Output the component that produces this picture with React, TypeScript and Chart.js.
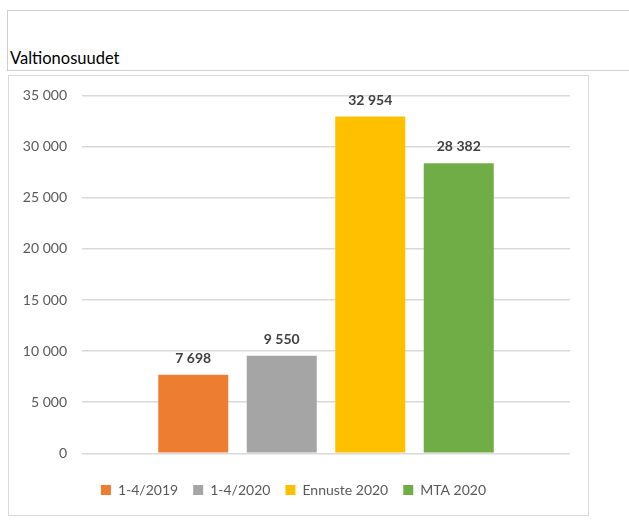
import React, { useEffect, useRef } from "react";
import { Chart, registerables } from "chart.js";

Chart.register(...registerables);

const categories = ["Valtionosuudet"];
const seriesLabels = ["1-4/2019", "1-4/2020", "Ennuste 2020", "MTA 2020"];
const seriesValues = [7698, 9550, 32954, 28382];
const seriesColors = ["#ED7D31", "#A5A5A5", "#FFC000", "#70AD47"];
const yMin = 0;
const yMax = 35000;
const yStep = 5000;

const fmt = (v: number) => String(Math.round(v)).replace(/\B(?=(\d{3})+(?!\d))/g, " ");

const FONT = "Lato, 'Noto Sans', sans-serif";

const valueLabels = {
  id: "valueLabels",
  afterDatasetsDraw(chart: any) {
    const ctx = chart.ctx;
    ctx.save();
    ctx.font = `bold 14px ${FONT}`;
    ctx.fillStyle = "#404040";
    ctx.textAlign = "center";
    ctx.textBaseline = "alphabetic";
    chart.data.datasets.forEach((ds: any, i: number) => {
      const meta = chart.getDatasetMeta(i);
      meta.data.forEach((el: any, j: number) => {
        ctx.fillText(fmt(ds.data[j] as number), el.x, el.y - 12);
      });
    });
    ctx.restore();
  },
};

export default function App() {
  const ref = useRef<HTMLCanvasElement>(null);
  useEffect(() => {
    if (!ref.current) return;
    const chart = new Chart(ref.current, {
      type: "bar",
      data: {
        labels: categories,
        datasets: seriesLabels.map((label, i) => ({
          label,
          data: [seriesValues[i]],
          backgroundColor: seriesColors[i],
          borderWidth: 0,
          categoryPercentage: 0.7254,
          barPercentage: 0.791,
        })),
      },
      options: {
        responsive: false,
        animation: false,
        layout: { padding: { left: 17, right: 59, top: 95.7, bottom: 14 } },
        plugins: {
          legend: {
            position: "bottom",
            labels: {
              font: { family: FONT, size: 14 },
              color: "#595959",
              boxWidth: 10,
              boxHeight: 10,
              padding: 15,
            },
          },
          tooltip: { enabled: false },
        },
        scales: {
          x: {
            display: true,
            grid: { display: false },
            border: { display: false },
            ticks: { display: false },
            afterFit: (s: any) => {
              s.height = 14.7;
            },
          },
          y: {
            min: yMin,
            max: yMax,
            ticks: {
              stepSize: yStep,
              callback: (v: any) => fmt(Number(v)),
              font: { family: FONT, size: 14 },
              color: "#595959",
              padding: 15,
            },
            grid: { color: "#d9d9d9", lineWidth: 1.5, drawTicks: false },
            border: { display: false },
            afterFit: (s: any) => {
              s.width = 65;
            },
          },
        },
      },
      plugins: [valueLabels],
    });
    return () => chart.destroy();
  }, []);

  return (
    <div style={{ position: "absolute", left: 0, top: 0, width: 629, height: 521, background: "#fff", overflow: "hidden" }}>
      <div style={{ position: "absolute", left: 7, top: 9.5, width: 622, height: 0, borderTop: "1.5px solid #cfcfcf" }} />
      <div style={{ position: "absolute", left: 6.5, top: 10, width: 0, height: 61, borderLeft: "1.5px solid #cfcfcf" }} />
      <div style={{ position: "absolute", left: 7, top: 69.5, width: 622, height: 0, borderTop: "1.5px solid #cfcfcf" }} />
      <div style={{ position: "absolute", left: 10, top: 47.5, fontFamily: FONT, fontSize: 16.5, color: "#000", lineHeight: "20px" }}>Valtionosuudet</div>
      <div style={{ position: "absolute", left: 8, top: 75, width: 579, height: 439, border: "1.5px solid #d9d9d9" }} />
      <canvas ref={ref} width={629} height={521} style={{ position: "absolute", left: 0, top: 0 }} />
    </div>
  );
}
